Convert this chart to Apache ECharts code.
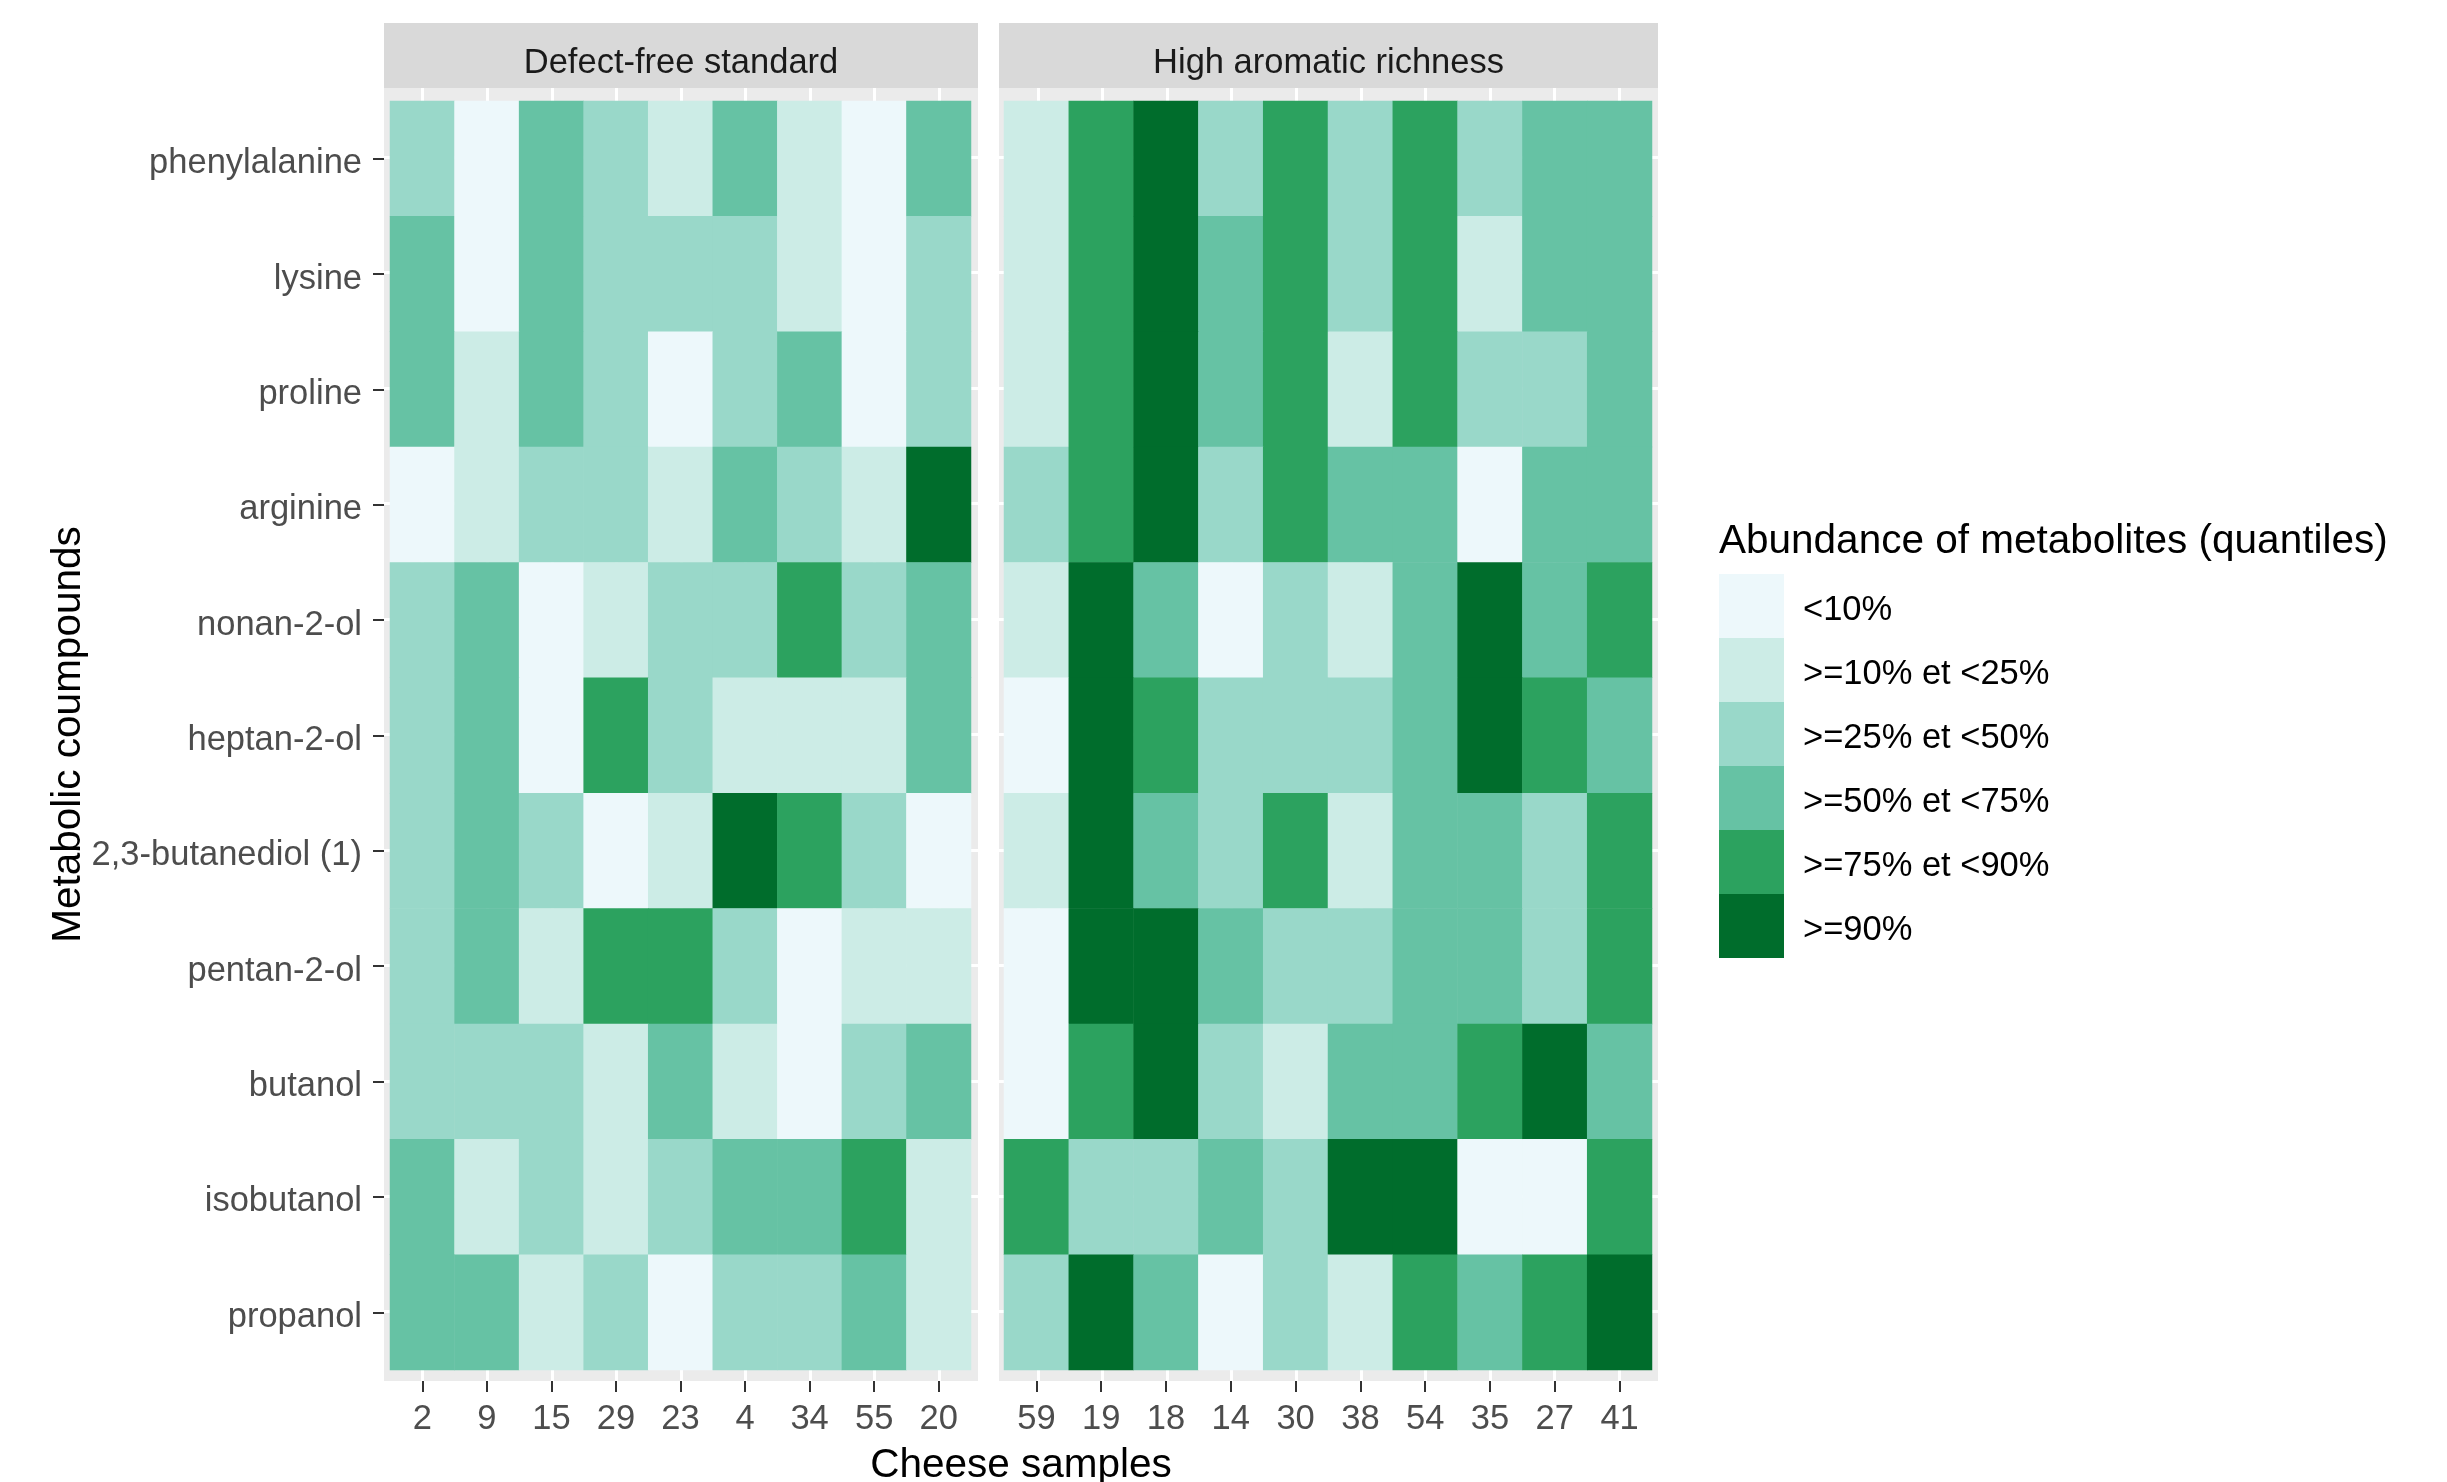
<!DOCTYPE html>
<html>
<head>
<meta charset="utf-8">
<script src="https://cdn.jsdelivr.net/npm/echarts@6/dist/echarts.min.js"></script>
<style>
  html, body { margin: 0; padding: 0; background: #ffffff; }
  #chart { width: 2447px; height: 1482px; }
</style>
</head>
<body>
<div id="chart"></div>
<script>
// ---------------- data ----------------
const compounds = ['phenylalanine', 'lysine', 'proline', 'arginine', 'nonan-2-ol', 'heptan-2-ol',
  '2,3-butanediol (1)', 'pentan-2-ol', 'butanol', 'isobutanol', 'propanol'];

const leftSamples = ['2', '9', '15', '29', '23', '4', '34', '55', '20'];
const rightSamples = ['59', '19', '18', '14', '30', '38', '54', '35', '27', '41'];

const panelTitles = ['Defect-free standard', 'High aromatic richness'];

// quantile class (0..5) per compound (rows, top to bottom) and sample (columns)
const leftLevels = [
  [2, 0, 3, 2, 1, 3, 1, 0, 3],
  [3, 0, 3, 2, 2, 2, 1, 0, 2],
  [3, 1, 3, 2, 0, 2, 3, 0, 2],
  [0, 1, 2, 2, 1, 3, 2, 1, 5],
  [2, 3, 0, 1, 2, 2, 4, 2, 3],
  [2, 3, 0, 4, 2, 1, 1, 1, 3],
  [2, 3, 2, 0, 1, 5, 4, 2, 0],
  [2, 3, 1, 4, 4, 2, 0, 1, 1],
  [2, 2, 2, 1, 3, 1, 0, 2, 3],
  [3, 1, 2, 1, 2, 3, 3, 4, 1],
  [3, 3, 1, 2, 0, 2, 2, 3, 1]
];

const rightLevels = [
  [1, 4, 5, 2, 4, 2, 4, 2, 3, 3],
  [1, 4, 5, 3, 4, 2, 4, 1, 3, 3],
  [1, 4, 5, 3, 4, 1, 4, 2, 2, 3],
  [2, 4, 5, 2, 4, 3, 3, 0, 3, 3],
  [1, 5, 3, 0, 2, 1, 3, 5, 3, 4],
  [0, 5, 4, 2, 2, 2, 3, 5, 4, 3],
  [1, 5, 3, 2, 4, 1, 3, 3, 2, 4],
  [0, 5, 5, 3, 2, 2, 3, 3, 2, 4],
  [0, 4, 5, 2, 1, 3, 3, 4, 5, 3],
  [4, 2, 2, 3, 2, 5, 5, 0, 0, 4],
  [2, 5, 3, 0, 2, 1, 4, 3, 4, 5]
];

const levelLabels = ['<10%', '>=10% et <25%', '>=25% et <50%', '>=50% et <75%', '>=75% et <90%', '>=90%'];
const levelColors = ['#EDF8FB', '#CCECE6', '#99D8C9', '#66C2A4', '#2CA25F', '#006D2C'];

const legendTitle = 'Abundance of metabolites (quantiles)';
const xTitle = 'Cheese samples';
const yTitle = 'Metabolic coumpounds';

// ---------------- build ----------------
function toHeat(levels) {
  const out = [];
  levels.forEach((row, yi) => row.forEach((v, xi) => out.push([xi, yi, v])));
  return out;
}

const FONT = '"Liberation Sans", Arial, sans-serif';
const AX_FS = 34.5;
const TITLE_FS = 40.5;

// layout (pixels)
const panels = [
  { bg: { left: 384, top: 88, width: 594, height: 1293 }, cells: { left: 390, top: 101, width: 581, height: 1269 } },
  { bg: { left: 999, top: 88, width: 659, height: 1293 }, cells: { left: 1004, top: 101, width: 648, height: 1269 } }
];
const stripTop = 23, stripH = 65;

const grids = [];
panels.forEach(p => grids.push(Object.assign({ show: true, backgroundColor: '#EBEBEB', borderWidth: 0 }, p.bg)));
panels.forEach(p => grids.push(Object.assign({ show: false, containLabel: false }, p.cells)));

const gridLine = { show: true, showMinLine: false, showMaxLine: false, lineStyle: { color: '#FFFFFF', width: 3 } };
const hidden = { axisLine: { show: false }, axisTick: { show: false }, axisLabel: { show: false } };

const nCols = [leftSamples.length, rightSamples.length];

const xAxes = [
  Object.assign({ type: 'value', gridIndex: 0, min: -0.6, max: nCols[0] - 0.4, splitNumber: nCols[0], splitLine: gridLine }, hidden),
  Object.assign({ type: 'value', gridIndex: 1, min: -0.6, max: nCols[1] - 0.4, splitNumber: nCols[1], splitLine: gridLine }, hidden)
];
const yAxes = [
  Object.assign({ type: 'value', gridIndex: 0, min: -0.6, max: compounds.length - 0.4, splitNumber: compounds.length, splitLine: gridLine }, hidden),
  Object.assign({ type: 'value', gridIndex: 1, min: -0.6, max: compounds.length - 0.4, splitNumber: compounds.length, splitLine: gridLine }, hidden)
];

[leftSamples, rightSamples].forEach((cats, i) => {
  const p = panels[i];
  xAxes.push({
    type: 'category', gridIndex: 2 + i, data: cats, position: 'bottom',
    offset: (p.bg.top + p.bg.height) - (p.cells.top + p.cells.height),
    axisLine: { show: false },
    axisTick: { show: true, alignWithLabel: true, length: 11, lineStyle: { color: '#333333', width: 2 } },
    axisLabel: { show: true, color: '#4D4D4D', fontSize: AX_FS, fontFamily: FONT, margin: 21, interval: 0 },
    splitLine: { show: false }
  });
  yAxes.push({
    type: 'category', gridIndex: 2 + i, data: compounds, inverse: true, position: 'left',
    offset: p.cells.left - p.bg.left,
    axisLine: { show: false },
    axisTick: { show: i === 0, alignWithLabel: true, length: 11, lineStyle: { color: '#333333', width: 2 } },
    axisLabel: {
      show: i === 0, color: '#4D4D4D', fontSize: AX_FS, fontFamily: FONT, margin: 22, interval: 0,
      formatter: v => '{a|' + v + '}',
      rich: { a: { color: '#4D4D4D', fontSize: AX_FS, fontFamily: FONT, padding: [10, 0, 0, 0] } }
    },
    splitLine: { show: false }
  });
});

const graphics = [];
panels.forEach((p, i) => {
  graphics.push({
    type: 'rect', silent: true,
    shape: { x: p.bg.left, y: stripTop, width: p.bg.width, height: stripH },
    style: { fill: '#D9D9D9' }
  });
  graphics.push({
    type: 'text', silent: true,
    x: p.bg.left + p.bg.width / 2, y: 63,
    style: { text: panelTitles[i], fill: '#1A1A1A', font: AX_FS + 'px ' + FONT, align: 'center', verticalAlign: 'middle' }
  });
});
graphics.push({
  type: 'text', silent: true,
  x: (panels[0].bg.left + panels[1].bg.left + panels[1].bg.width) / 2, y: 1466,
  style: { text: xTitle, fill: '#000000', font: TITLE_FS + 'px ' + FONT, align: 'center', verticalAlign: 'middle' }
});
graphics.push({
  type: 'text', silent: true,
  x: 69, y: panels[0].bg.top + panels[0].bg.height / 2, rotation: Math.PI / 2,
  style: { text: yTitle, fill: '#000000', font: TITLE_FS + 'px ' + FONT, align: 'center', verticalAlign: 'middle' }
});
graphics.push({
  type: 'text', silent: true,
  x: 1719, y: 542,
  style: { text: legendTitle, fill: '#000000', font: TITLE_FS + 'px ' + FONT, align: 'left', verticalAlign: 'middle' }
});

const option = {
  backgroundColor: '#FFFFFF',
  animation: false,
  textStyle: { fontFamily: FONT },
  grid: grids,
  xAxis: xAxes,
  yAxis: yAxes,
  visualMap: {
    type: 'piecewise',
    dimension: 2,
    seriesIndex: [0, 1],
    orient: 'vertical',
    inverse: true,
    left: 1719, top: 574,
    padding: 0,
    itemWidth: 65, itemHeight: 64, itemGap: 0,
    itemSymbol: 'rect',
    textGap: 19,
    align: 'left',
    selectedMode: false,
    hoverLink: false,
    showLabel: true,
    formatter: v => '{a|' + levelLabels[v] + '}',
    textStyle: {
      color: '#000000', fontSize: AX_FS, fontFamily: FONT,
      rich: { a: { color: '#000000', fontSize: AX_FS, fontFamily: FONT, padding: [8, 0, 0, 0] } }
    },
    pieces: levelLabels.map((lab, i) => ({ value: i, color: levelColors[i] }))
  },
  graphic: graphics,
  series: [
    { type: 'heatmap', xAxisIndex: 2, yAxisIndex: 2, data: toHeat(leftLevels), emphasis: { disabled: true }, itemStyle: { borderWidth: 0 } },
    { type: 'heatmap', xAxisIndex: 3, yAxisIndex: 3, data: toHeat(rightLevels), emphasis: { disabled: true }, itemStyle: { borderWidth: 0 } }
  ]
};

const chart = echarts.init(document.getElementById('chart'), null, { renderer: 'canvas' });
chart.setOption(option);
</script>
</body>
</html>
